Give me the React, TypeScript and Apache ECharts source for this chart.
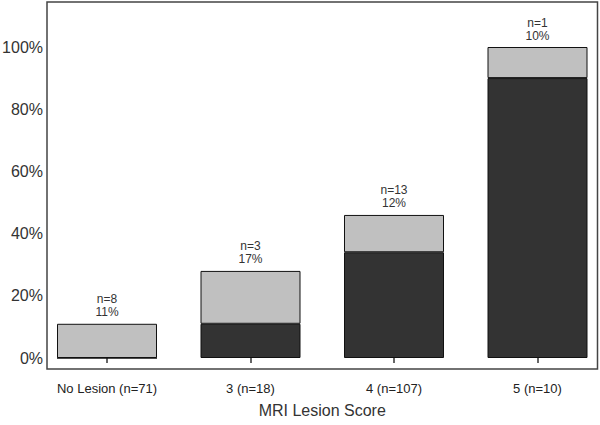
import React, { useEffect, useRef } from "react";
import * as echarts from "echarts";

const categories = ["No Lesion (n=71)", "3 (n=18)", "4 (n=107)", "5 (n=10)"];
const darkValues = [0, 11, 34, 90];
const lightValues = [11, 17, 12, 10];
const nCounts = [8, 3, 13, 1];
const yTicks = [0, 20, 40, 60, 80, 100];

const FONT = "'Liberation Sans', Arial, sans-serif";

export default function App() {
  const ref = useRef<HTMLDivElement>(null);
  useEffect(() => {
    if (!ref.current) return;
    const chart = echarts.init(ref.current, null, { renderer: "svg" });
    chart.setOption({
      animation: false,
      backgroundColor: "#ffffff",
      textStyle: { fontFamily: FONT },
      grid: { left: 35.25, top: 47, width: 574, height: 311, containLabel: false, outerBoundsMode: "none" },
      xAxis: {
        type: "category",
        data: categories,
        offset: 11,
        axisLine: { show: false },
        axisTick: { show: true, alignWithLabel: true, length: 5, lineStyle: { color: "#333", width: 1.5 } },
        axisLabel: { fontSize: 13, color: "#222", margin: 13, fontFamily: FONT },
        name: "MRI Lesion Score",
        nameLocation: "middle",
        nameGap: 33,
        nameTextStyle: { fontSize: 16, color: "#333", fontFamily: FONT },
        splitLine: { show: false },
      },
      yAxis: {
        type: "value",
        min: yTicks[0],
        max: yTicks[yTicks.length - 1],
        interval: 20,
        offset: -11.75,
        axisLine: { show: false },
        axisTick: { show: false },
        splitLine: { show: false },
        axisLabel: { formatter: "{value}%", fontSize: 16, color: "#333", margin: 4, fontFamily: FONT },
      },
      graphic: [
        {
          type: "rect",
          shape: { x: 47, y: 2, width: 550.5, height: 367 },
          style: { fill: "none", stroke: "#444", lineWidth: 1.5 },
          silent: true,
          z: 10,
        },
      ],
      series: [
        {
          type: "bar",
          stack: "a",
          barWidth: 100,
          data: darkValues,
          itemStyle: { color: "#333333", borderColor: "#111", borderWidth: 1 },
        },
        {
          type: "bar",
          stack: "a",
          barWidth: 100,
          data: lightValues,
          itemStyle: { color: "#c0c0c0", borderColor: "#111", borderWidth: 1 },
          label: {
            show: true,
            position: "top",
            distance: 5,
            fontSize: 12,
            lineHeight: 13,
            color: "#333",
            fontFamily: FONT,
            formatter: (p: any) => `n=${nCounts[p.dataIndex]}\n${lightValues[p.dataIndex]}%`,
          },
        },
      ],
    });
    return () => chart.dispose();
  }, []);
  return (
    <div
      ref={ref}
      style={{ position: "absolute", left: 0, top: 0, width: 600, height: 425 }}
    />
  );
}
